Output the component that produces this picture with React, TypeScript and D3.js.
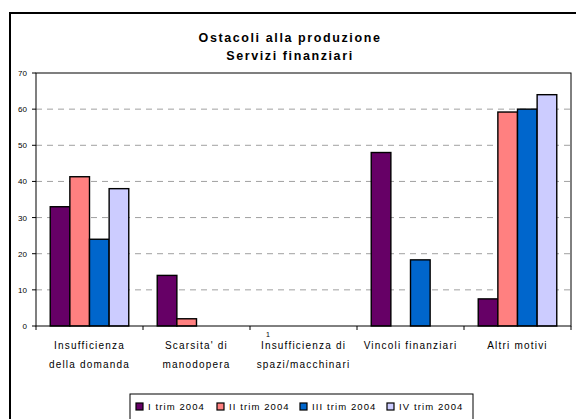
import React from "react";
import * as d3 from "d3";

const categories = ["c1", "c2", "c3", "c4", "c5"];
const categoryLabels: string[][] = [
  ["Insufficienza", "della domanda"],
  ["Scarsita' di", "manodopera"],
  ["Insufficienza di", "spazi/macchinari"],
  ["Vincoli finanziari"],
  ["Altri motivi"],
];
const seriesNames = ["I trim 2004", "II trim 2004", "III trim 2004", "IV trim 2004"];
const seriesColors = ["#660066", "#ff8080", "#0066cc", "#ccccff"];
const trim1 = [33, 14, 0, 48, 7.5];
const trim2 = [41.3, 2, 0, 0, 59.2];
const trim3 = [24, 0, 0, 18.3, 60];
const trim4 = [38, 0, 0, 0, 64];
const seriesValues = [trim1, trim2, trim3, trim4];
const yTicks = [0, 10, 20, 30, 40, 50, 60, 70];
const titleLines = ["Ostacoli alla produzione", "Servizi finanziari"];

const W = 576;
const H = 419;
const plot = { left: 36, right: 571, top: 73, bottom: 326 };
const FONT = "Arial, 'Liberation Sans', sans-serif";

export default function App() {
  const x = d3.scaleBand<string>().domain(categories).range([plot.left, plot.right]).padding(0);
  const y = d3.scaleLinear().domain([0, 70]).range([plot.bottom, plot.top]);
  const bw = x.bandwidth();
  const barW = bw / (4 + 1.45);
  const offset = (bw - barW * 4) / 2;

  const legendX = [136, 217, 300, 387];

  return (
    <svg
      width={W}
      height={H}
      style={{ position: "absolute", left: 0, top: 0, background: "#fff" }}
      fontFamily={FONT}
    >
      <rect x={0} y={0} width={W} height={H} fill="#fff" />
      {/* outer chart border */}
      <rect x={10} y={13} width={620} height={460} fill="none" stroke="#000" strokeWidth={2} />

      {/* title */}
      {titleLines.map((t, i) => (
        <text
          key={t}
          x={290}
          y={42 + i * 18}
          textAnchor="middle"
          fontSize={12.5}
          fontWeight="bold"
          letterSpacing={1.6}
        >
          {t}
        </text>
      ))}

      {/* gridlines */}
      {yTicks
        .filter((t) => t > 0 && t < 70)
        .map((t) => (
          <line
            key={"g" + t}
            x1={plot.left}
            x2={plot.right}
            y1={y(t)}
            y2={y(t)}
            stroke="#a0a0a0"
            strokeWidth={1}
            strokeDasharray="6,5"
          />
        ))}

      {/* bars */}
      {seriesValues.map((vals, si) =>
        vals.map((v, ci) =>
          v > 0 ? (
            <rect
              key={`b${si}-${ci}`}
              x={(x(categories[ci]) as number) + offset + si * barW}
              y={y(v)}
              width={barW}
              height={y(0) - y(v)}
              fill={seriesColors[si]}
              stroke="#000"
              strokeWidth={1.4}
            />
          ) : null
        )
      )}

      {/* plot border */}
      <rect
        x={plot.left}
        y={plot.top}
        width={plot.right - plot.left}
        height={plot.bottom - plot.top}
        fill="none"
        stroke="#000"
        strokeWidth={1}
      />

      {/* y axis ticks & labels */}
      {yTicks.map((t) => (
        <g key={"y" + t}>
          <line x1={plot.left - 4} x2={plot.left} y1={y(t)} y2={y(t)} stroke="#000" />
          <text x={plot.left - 9} y={y(t) + 3} textAnchor="end" fontSize={8}>
            {t}
          </text>
        </g>
      ))}

      {/* x axis ticks */}
      {categories.map((c) => (
        <line
          key={"xt" + c}
          x1={x(c) as number}
          x2={x(c) as number}
          y1={plot.bottom}
          y2={plot.bottom + 4}
          stroke="#000"
        />
      ))}
      <line x1={plot.right} x2={plot.right} y1={plot.bottom} y2={plot.bottom + 4} stroke="#000" />

      {/* x labels */}
      {categoryLabels.map((lines, i) =>
        lines.map((l, li) => (
          <text
            key={`xl${i}-${li}`}
            x={(x(categories[i]) as number) + bw / 2}
            y={349 + li * 19}
            textAnchor="middle"
            fontSize={10}
            letterSpacing={1.2}
          >
            {l}
          </text>
        ))
      )}
      <text x={268} y={337} textAnchor="middle" fontSize={7}>
        1
      </text>

      {/* legend */}
      <rect x={130} y={394} width={343} height={40} fill="none" stroke="#000" strokeWidth={1} />
      {seriesNames.map((s, i) => (
        <g key={s}>
          <rect
            x={legendX[i]}
            y={403}
            width={7}
            height={7}
            fill={seriesColors[i]}
            stroke="#000"
            strokeWidth={1.2}
          />
          <text x={legendX[i] + 12} y={410} fontSize={9.5} letterSpacing={1.1}>
            {s}
          </text>
        </g>
      ))}
    </svg>
  );
}
